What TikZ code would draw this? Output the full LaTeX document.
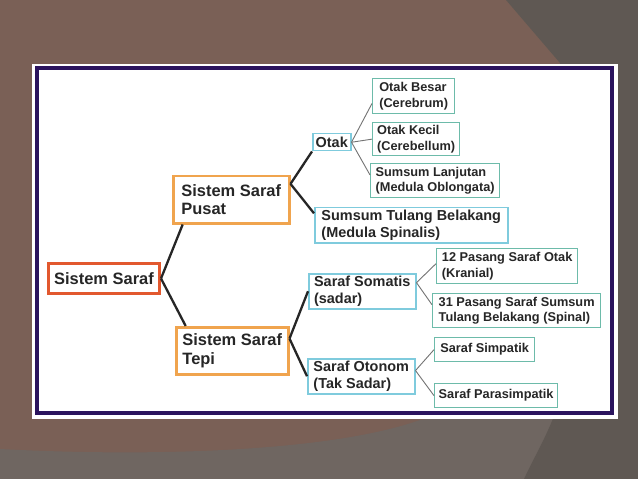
\documentclass[tikz,border=0pt]{standalone}
\usepackage{fontspec}
\setmainfont{Liberation Sans}
\usepackage{tikz}
\usepackage{xcolor}

\definecolor{bgbrown}{HTML}{7A6056}
\definecolor{bgdark}{HTML}{5F5853}
\definecolor{bggray}{HTML}{6F6661}
\definecolor{framepurple}{HTML}{2B145E}
\definecolor{rootred}{HTML}{E2582E}
\definecolor{branchorange}{HTML}{F0A44E}
\definecolor{nodecyan}{HTML}{7FCBDD}
\definecolor{leafteal}{HTML}{6DBBAA}
\definecolor{textgray}{HTML}{262626}

\tikzset{
  box/.style={draw, fill=white, anchor=north west, align=left, text=textgray, inner xsep=4bp, inner ysep=2bp},
  rootbox/.style={box, draw=rootred, line width=3bp, font=\fontsize{16.5}{18.5}\selectfont\bfseries},
  midbox/.style={box, draw=branchorange, line width=2.5bp, font=\fontsize{16.5}{18.5}\selectfont\bfseries},
  subbox/.style={box, draw=nodecyan, line width=1.5bp, font=\fontsize{14.5}{16.8}\selectfont\bfseries},
  leafbox/.style={box, draw=leafteal, line width=1.3bp, font=\fontsize{12.8}{15.6}\selectfont\bfseries},
  thickline/.style={line width=2.3bp, black!85},
  thinline/.style={line width=0.9bp, black!55}
}

\begin{document}
\begin{tikzpicture}[x=1bp,y=-1bp]
  \useasboundingbox (0,0) rectangle (638,479);
  \fill[bgbrown] (0,0) rectangle (638,479);
  \fill[bggray] (0,449) .. controls (150,457) and (330,452) .. (420,420) -- (560,400) -- (560,479) -- (0,479) -- cycle;
  \fill[bgdark] (506,0) -- (638,0) -- (638,479) -- (524,479) .. controls (535,455) and (548,435) .. (560,400) -- (560,63) -- cycle;
  \fill[white] (32,64) rectangle (618,419);
  \draw[framepurple, line width=4bp] (37,68) rectangle (612,413);

  \node[rootbox, minimum width=111bp, minimum height=30bp] (ss) at (47,262) {Sistem Saraf};
  \node[midbox, minimum width=116bp, minimum height=47bp] (pusat) at (172,175) {Sistem Saraf\\Pusat};
  \node[midbox, minimum width=112bp, minimum height=47bp] (tepi) at (175,326) {Sistem Saraf\\Tepi};
  \node[subbox, minimum width=38bp, minimum height=17bp, inner ysep=0bp, inner xsep=2bp] (otak) at (312,133) {Otak};
  \node[subbox, minimum width=193bp, minimum height=35bp] (tulang) at (314,207) {Sumsum Tulang Belakang\\(Medula Spinalis)};
  \node[subbox, minimum width=107bp, minimum height=35bp] (somatis) at (308,273) {Saraf Somatis\\(sadar)};
  \node[subbox, minimum width=107bp, minimum height=35bp] (otonom) at (307,358) {Saraf Otonom\\(Tak Sadar)};
  \node[leafbox, minimum width=82bp, minimum height=35bp] (besar) at (372,78) {Otak Besar\\(Cerebrum)};
  \node[leafbox, minimum width=87bp, minimum height=33bp] (kecil) at (372,122) {Otak Kecil\\(Cerebellum)};
  \node[leafbox, minimum width=129bp, minimum height=34bp] (lanjutan) at (370,163) {Sumsum Lanjutan\\(Medula Oblongata)};
  \node[leafbox, minimum width=141bp, minimum height=35bp] (kranial) at (436,248) {12 Pasang Saraf Otak\\(Kranial)};
  \node[leafbox, minimum width=168bp, minimum height=34bp] (spinal) at (432,293) {31 Pasang Saraf Sumsum\\Tulang Belakang (Spinal)};
  \node[leafbox, minimum width=100bp, minimum height=24bp] (simpatik) at (434,337) {Saraf Simpatik};
  \node[leafbox, minimum width=123bp, minimum height=24bp] (para) at (434,383) {Saraf Parasimpatik};

  \draw[thickline] (ss.east) -- (pusat.207);
  \draw[thickline] (ss.east) -- (tepi.152);
  \draw[thickline] (pusat.15) -- (otak.south west);
  \draw[thickline] (pusat.15) -- (tulang.173);
  \draw[thickline] (tepi.12) -- (somatis.west);
  \draw[thickline] (tepi.12) -- (otonom.west);
  \draw[thinline] (otak.east) -- (besar.190);
  \draw[thinline] (otak.east) -- (kecil.west);
  \draw[thinline] (otak.east) -- (lanjutan.175);
  \draw[thinline] (somatis.9) -- (kranial.178);
  \draw[thinline] (somatis.9) -- (spinal.176);
  \draw[thinline] (otonom.6) -- (simpatik.west);
  \draw[thinline] (otonom.6) -- (para.west);
\end{tikzpicture}
\end{document}
